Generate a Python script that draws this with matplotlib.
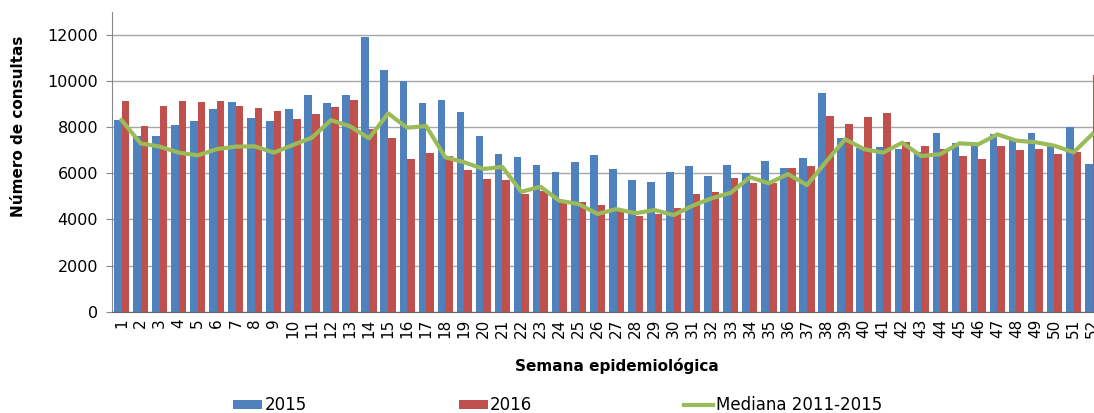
import numpy as np
import matplotlib
matplotlib.use("Agg")
import matplotlib.pyplot as plt

# semanas epidemiologicas
semanas = np.arange(1, 53)

consultas_2015 = [8300, 7600, 7600, 8100, 8250, 8800, 9100, 8400, 8250, 8800,
                  9400, 9050, 9380, 11900, 10480, 10000, 9060, 9180, 8650, 7600,
                  6850, 6700, 6360, 6070, 6490, 6780, 6210, 5720, 5620, 6060,
                  6320, 5900, 6380, 6020, 6520, 6220, 6660, 9500, 7520, 7100,
                  7160, 7070, 6940, 7760, 7300, 7260, 7690, 7450, 7740, 7260,
                  8000, 6400]

consultas_2016 = [9120, 8050, 8930, 9150, 9090, 9150, 8930, 8820, 8700, 8360,
                  8590, 8880, 9190, 7920, 7550, 6610, 6880, 6740, 6130, 5770,
                  5700, 5100, 5230, 4840, 4760, 4610, 4380, 4150, 4220, 4480,
                  5090, 5190, 5780, 5570, 5570, 6230, 6330, 8470, 8130, 8440,
                  8620, 7350, 7170, 7040, 6770, 6610, 7200, 7000, 7040, 6840,
                  6940, 10260]

mediana = [8310, 7300, 7160, 6900, 6780, 7050, 7160, 7170, 6900, 7230,
           7550, 8310, 8040, 7520, 8600, 7980, 8050, 6700, 6480, 6190,
           6280, 5200, 5420, 4810, 4670, 4240, 4450, 4270, 4410, 4190,
           4600, 4920, 5160, 5830, 5570, 5970, 5490, 6500, 7480, 7050,
           6900, 7330, 6750, 6830, 7300, 7260, 7690, 7420, 7350, 7200,
           6910, 7710]

azul = "#4F81BD"
rojo = "#C0504D"
verde = "#9BBB59"

fig = plt.figure(figsize=(10.94, 4.13), dpi=100)
# the axes runs a bit past the right edge, like the original (week 52 is cut)
ax = fig.add_axes([0.1024, 0.2453, 0.905, 0.7257])

w = 0.4
b1 = ax.bar(semanas - w/2, consultas_2015, width=w, color=azul, label="2015", zorder=2)
b2 = ax.bar(semanas + w/2, consultas_2016, width=w, color=rojo, label="2016", zorder=2)
l1, = ax.plot(semanas, mediana, color=verde, lw=3, label="Mediana 2011-2015", zorder=3)

ax.set_xlim(0.5, 52.5)
ax.set_ylim(0, 13000)
ax.set_yticks(np.arange(0, 12001, 2000))
ax.set_xticks(semanas)
ax.set_xticklabels([str(s) for s in semanas], rotation=90, fontsize=11)
ax.tick_params(axis="y", labelsize=11.5, length=4, color="#888888", pad=6)
ax.tick_params(axis="x", length=0, pad=5)
ax.yaxis.grid(True, color="#A6A6A6", lw=1, zorder=0)
ax.set_axisbelow(True)

for s in ["top", "right"]:
    ax.spines[s].set_visible(False)
ax.spines["left"].set_color("#888888")
ax.spines["bottom"].set_color("#666666")

fig.text(0.0165, 0.695, "Número de consultas", rotation=90, fontsize=11,
         fontweight="bold", ha="center", va="center")
fig.text(617/1094, 1 - 366/413, "Semana epidemiológica", fontsize=11,
         fontweight="bold", ha="center", va="center")

fig.legend(handles=[b1, b2, l1], loc="center", bbox_to_anchor=(0.5096, 1 - 405/413),
           ncol=3, frameon=False, fontsize=12, columnspacing=9.1, handlelength=1.75,
           handletextpad=0.15, handleheight=0.45, borderpad=0)

fig.savefig("out.png", dpi=100)
